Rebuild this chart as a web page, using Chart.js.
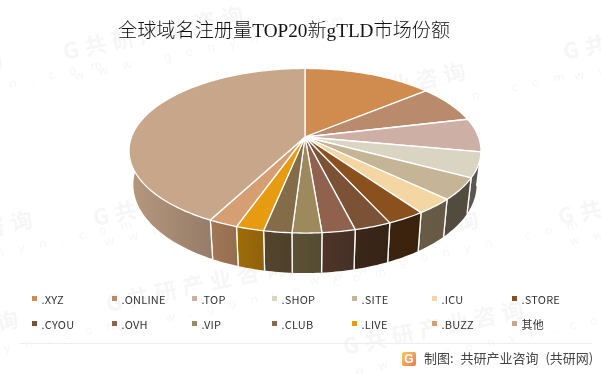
<!DOCTYPE html>
<html>
<head>
<meta charset="utf-8">
<script src="https://cdn.jsdelivr.net/npm/chart.js@4"></script>
<style>
  html, body { margin: 0; padding: 0; background: #fff; }
  #wrap { position: relative; width: 601px; height: 374px; overflow: hidden; font-family: "Noto Sans CJK SC", "Noto Sans", sans-serif; }
  #pieChart { position: absolute; left: 0; top: 0; }
  #title { position: absolute; left: 118px; top: 17px; font-size: 19.2px; line-height: 28px; white-space: nowrap; color: #111; font-family: "Liberation Serif", "Noto Sans CJK SC", serif; font-weight: 300; }
  .item { position: absolute; font-size: 11px; line-height: 14px; color: #333; white-space: nowrap; padding-left: 9.5px; letter-spacing: 0.2px; }
  .item i { position: absolute; left: 0; top: 4px; width: 5px; height: 5px; }
  #rule { position: absolute; left: 20px; width: 572px; top: 343px; height: 1px; background: #eeeeee; }
  #logo { position: absolute; left: 402px; top: 352px; width: 14px; height: 14px; border-radius: 2px; background: linear-gradient(135deg, #f7c860, #ee7a55); color: #fff; font: bold 12px/14px "Liberation Sans", sans-serif; text-align: center; }
  #source { position: absolute; left: 424px; top: 349px; font-size: 13px; line-height: 18px; color: #444; white-space: nowrap; word-spacing: 4px; }
</style>
</head>
<body>
<div id="wrap">
  <canvas id="pieChart" width="601" height="374"></canvas>
  <div id="title">全球域名注册量TOP20新gTLD市场份额</div>
  <div id="legend"></div>
  <div id="rule"></div>
  <div id="logo">G</div>
  <div id="source">制图: 共研产业咨询 (共研网)</div>
</div>
<script>
// 도메인별 점유율 (picture estimate, %)
const categories = ['.XYZ', '.ONLINE', '.TOP', '.SHOP', '.SITE', '.ICU', '.STORE', '.CYOU', '.OVH', '.VIP', '.CLUB', '.LIVE', '.BUZZ', '其他'];
const shares = [14.0, 7.3, 6.6, 4.9, 4.3, 3.1, 3.0, 2.9, 2.6, 2.3, 2.2, 2.2, 2.3, 42.3];
const colors = ['#D08C4E', '#B98A6C', '#CDAFA5', '#D9D5C2', '#C6B497', '#F4D6A2', '#8A511F', '#7B5236', '#90624E', '#9C8A5C', '#856C48', '#E69B10', '#D69E73', '#C7A68A'];

// 화면상 원근 파라미터
const view = { cx: 305, cy: 137, a: 173.5, b: 80, k: 0.167, a2: 169.2, b2: 85.9, drop: 32.9 };

// 옆면 밝기 (angle in degree, factor)
const shadeStops = [[80, 0.40], [160, 0.43], [170, 0.51], [180, 0.57], [190, 0.62], [200, 0.70], [207, 0.75], [280, 0.90]];

// 워터마크 시작 위치
const marks = [[65, 60], [565, 60], [-176, 105], [287, 117], [95, 226], [-146, 265], [300, 265], [560, 225], [108, 312], [345, 355], [-160, 365]];

function shadeAt(deg) {
  for (let i = 1; i < shadeStops.length; i++) {
    if (deg <= shadeStops[i][0]) {
      let p = shadeStops[i - 1], q = shadeStops[i];
      return p[1] + (q[1] - p[1]) * (deg - p[0]) / (q[0] - p[0]);
    }
  }
  return shadeStops[shadeStops.length - 1][1];
}

function darker(hex, f) {
  let n = parseInt(hex.slice(1), 16);
  return 'rgb(' + Math.round((n >> 16) * f) + ',' + Math.round(((n >> 8) & 255) * f) + ',' + Math.round((n & 255) * f) + ')';
}

// 각도(도, 12시 기준 시계방향) -> 화면 좌표
function topPoint(deg) {
  let t = deg * Math.PI / 180;
  let x = Math.sin(t), y = -Math.cos(t);
  let w = 1 - view.k * y;
  return [view.cx + view.a * x / w, view.cy + view.b * y / w];
}

function lowPoint(deg) {
  let t = deg * Math.PI / 180;
  let x = Math.sin(t), y = -Math.cos(t);
  let w = 1 - view.k * y;
  return [view.cx + view.a2 * x / w, view.cy + view.drop + view.b2 * y / w];
}

const piePlugin = {
  id: 'pie3d',
  beforeDraw(chart) {
    let ctx = chart.ctx;
    ctx.save();
    ctx.fillStyle = '#f6f6f6';
    for (let i = 0; i < marks.length; i++) {
      ctx.save();
      ctx.translate(marks[i][0], marks[i][1]);
      ctx.rotate(-12 * Math.PI / 180);
      ctx.font = 'bold 22px "Noto Sans CJK SC"';
      ctx.letterSpacing = '6px';
      ctx.fillText('G共研产业咨询', 0, 0);
      ctx.font = '12px "Noto Sans"';
      ctx.letterSpacing = '15px';
      ctx.fillText('www.gonyn.com', 6, 22);
      ctx.restore();
    }
    ctx.restore();
  },
  beforeDatasetsDraw(chart) {
    let ctx = chart.ctx;
    let arcs = chart.getDatasetMeta(0).data;
    let toDeg = a => (a + Math.PI / 2) * 180 / Math.PI;

    // 옆면
    ctx.save();
    for (let i = 0; i < arcs.length; i++) {
      let from = Math.max(toDeg(arcs[i].startAngle), 80);
      let to = Math.min(toDeg(arcs[i].endAngle), 280);
      if (to <= from) continue;
      let p0 = topPoint(from), p1 = topPoint(to);
      let grad = ctx.createLinearGradient(p0[0], 0, p1[0], 0);
      grad.addColorStop(0, darker(colors[i], shadeAt(from)));
      grad.addColorStop(1, darker(colors[i], shadeAt(to)));
      ctx.beginPath();
      for (let d = from; d < to; d += 1) {
        let p = topPoint(d);
        ctx.lineTo(p[0], p[1]);
      }
      ctx.lineTo(p1[0], p1[1]);
      for (let d = to; d > from; d -= 1) {
        let p = lowPoint(d);
        ctx.lineTo(p[0], p[1]);
      }
      let last = lowPoint(from);
      ctx.lineTo(last[0], last[1]);
      ctx.closePath();
      ctx.fillStyle = grad;
      ctx.fill();
      ctx.strokeStyle = '#ffffff';
      ctx.lineWidth = 1.3;
      ctx.beginPath();
      if (from > 80) {
        ctx.moveTo(p0[0], p0[1]);
        ctx.lineTo(last[0], last[1]);
      }
      if (to < 280) {
        let e = lowPoint(to);
        ctx.moveTo(p1[0], p1[1]);
        ctx.lineTo(e[0], e[1]);
      }
      ctx.stroke();
    }

    // 윗면
    for (let i = 0; i < arcs.length; i++) {
      let from = toDeg(arcs[i].startAngle);
      let to = toDeg(arcs[i].endAngle);
      ctx.beginPath();
      ctx.moveTo(view.cx, view.cy);
      for (let d = from; d < to; d += 1) {
        let p = topPoint(d);
        ctx.lineTo(p[0], p[1]);
      }
      let e = topPoint(to);
      ctx.lineTo(e[0], e[1]);
      ctx.closePath();
      ctx.fillStyle = colors[i];
      ctx.fill();
      ctx.strokeStyle = '#ffffff';
      ctx.lineWidth = 1.3;
      ctx.lineJoin = 'round';
      ctx.stroke();
    }
    ctx.restore();
    return false; // 기본 원 그리기 생략
  }
};

new Chart(document.getElementById('pieChart'), {
  type: 'pie',
  data: {
    labels: categories,
    datasets: [{ data: shares, backgroundColor: colors, borderColor: '#ffffff' }]
  },
  options: {
    responsive: false,
    animation: false,
    plugins: { legend: { display: false }, tooltip: { enabled: false } }
  },
  plugins: [piePlugin]
});

// 범례
const legend = document.getElementById('legend');
for (let i = 0; i < categories.length; i++) {
  let item = document.createElement('div');
  item.className = 'item';
  item.style.left = (32 + 80 * (i % 7)) + 'px';
  item.style.top = (292 + 25 * Math.floor(i / 7)) + 'px';
  item.innerHTML = '<i style="background:' + colors[i] + '"></i>' + categories[i];
  legend.appendChild(item);
}
</script>
</body>
</html>
